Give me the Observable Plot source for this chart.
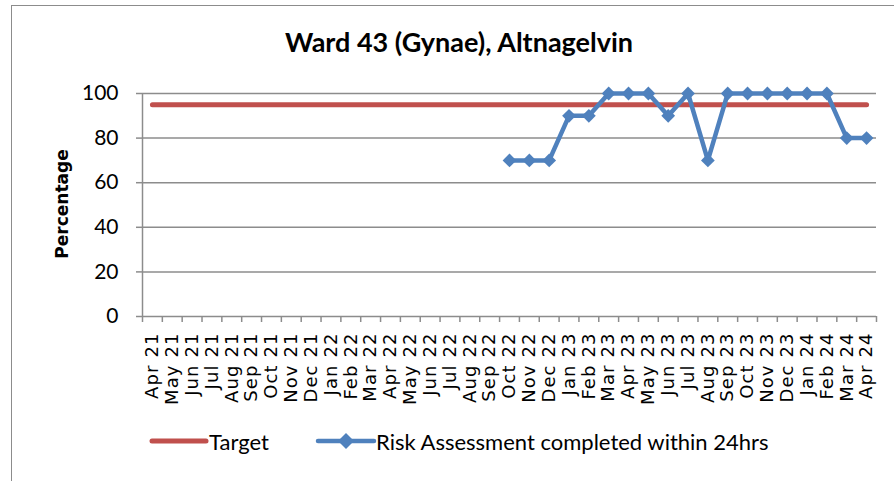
<!DOCTYPE html>
<html><head><meta charset="utf-8">
<script src="https://cdn.jsdelivr.net/npm/d3@7"></script>
<script src="https://cdn.jsdelivr.net/npm/@observablehq/plot@0.6"></script>
<style>
body{margin:0;background:#fff;}
#wrap{position:relative;width:894px;height:481px;overflow:hidden;background:#fff;}
#chart{position:absolute;left:0;top:0;}
#frame{position:absolute;left:11px;top:5px;width:900px;height:500px;border:1px solid #8c8c8c;box-sizing:border-box;pointer-events:none;}
#title{position:absolute;left:12px;width:894px;top:25px;text-align:center;font:bold 27px Lato,sans-serif;color:#000;}
#ylabel{position:absolute;left:62px;top:204px;transform:translate(-50%,-50%) rotate(-90deg);font:bold 17px "DejaVu Sans",sans-serif;white-space:nowrap;color:#000;}
.lg{position:absolute;top:441px;transform:translateY(-50%);font:22px Lato,sans-serif;color:#000;white-space:nowrap;}
.sw{position:absolute;top:429px;}
.xlab text{letter-spacing:1.1px;}
</style></head>
<body><div id="wrap">
<div id="chart"></div>
<div id="title"></div>
<div id="ylabel"></div>
<svg class="sw" style="left:148px" width="62" height="24"><line x1="4" y1="12" x2="58" y2="12" stroke="#C0504D" stroke-width="5" stroke-linecap="round"/></svg>
<div class="lg" id="lg1" style="left:209px"></div>
<svg class="sw" style="left:314px" width="64" height="24"><line x1="4" y1="12" x2="60" y2="12" stroke="#4F81BD" stroke-width="4.5" stroke-linecap="round"/><path d="M32,4L40,12L32,20L24,12Z" fill="#4F81BD"/></svg>
<div class="lg" id="lg2" style="left:376px"></div>
<div id="frame"></div>
</div>
<script>
const titleText = "Ward 43 (Gynae), Altnagelvin";
const yAxisTitle = "Percentage";
const targetLabel = "Target";
const seriesLabel = "Risk Assessment completed within 24hrs";
const months = ["Apr 21","May 21","Jun 21","Jul 21","Aug 21","Sep 21","Oct 21","Nov 21","Dec 21","Jan 22","Feb 22","Mar 22","Apr 22","May 22","Jun 22","Jul 22","Aug 22","Sep 22","Oct 22","Nov 22","Dec 22","Jan 23","Feb 23","Mar 23","Apr 23","May 23","Jun 23","Jul 23","Aug 23","Sep 23","Oct 23","Nov 23","Dec 23","Jan 24","Feb 24","Mar 24","Apr 24"];
const riskMonths = ["Oct 22","Nov 22","Dec 22","Jan 23","Feb 23","Mar 23","Apr 23","May 23","Jun 23","Jul 23","Aug 23","Sep 23","Oct 23","Nov 23","Dec 23","Jan 24","Feb 24","Mar 24","Apr 24"];
const riskValues = [70,70,70,90,90,100,100,100,90,100,70,100,100,100,100,100,100,80,80];
const targetValue = 95;
const yTicks = [0,20,40,60,80,100];

document.getElementById("title").textContent = titleText;
document.getElementById("ylabel").textContent = yAxisTitle;
document.getElementById("lg1").textContent = targetLabel;
document.getElementById("lg2").textContent = seriesLabel;

const targetData = months.map((m, i) => ({pos: i + 0.5, v: targetValue}));
const riskData = riskMonths.map((m, k) => ({pos: months.indexOf(m) + 0.5, v: riskValues[k]}));
const gray = "#8c8c8c";

const chart = Plot.plot({
  width: 894, height: 481,
  marginTop: 93, marginBottom: 165, marginLeft: 142, marginRight: 18,
  style: {background: "transparent", color: "#000", overflow: "visible"},
  x: {type: "linear", domain: [0, months.length], axis: null},
  y: {domain: [0, 100], axis: null},
  marks: [
    Plot.ruleY(yTicks, {stroke: gray, strokeWidth: 1.5}),
    Plot.axisY({ticks: yTicks, tickSize: 6, tickPadding: 18, stroke: gray, strokeWidth: 1.5, fontSize: 21, fontFamily: "Lato", label: null}),
    Plot.ruleX([0], {stroke: gray, strokeWidth: 1.5}),
    Plot.axisX({ticks: d3.range(months.length + 1), tickSize: 6, tickFormat: () => "", stroke: gray, strokeWidth: 1.5, label: null}),
    Plot.axisX({ticks: months.map((m, i) => i + 0.5), tickSize: 0, tickPadding: 16, tickRotate: -90, tickFormat: d => months[Math.floor(d)], fontSize: 18, fontFamily: "DejaVu Sans", label: null, className: "xlab"}),
    Plot.line(targetData, {x: "pos", y: "v", stroke: "#C0504D", strokeWidth: 5, strokeLinecap: "round"}),
    Plot.line(riskData, {x: "pos", y: "v", stroke: "#4F81BD", strokeWidth: 4.5, strokeLinejoin: "round"}),
    Plot.dot(riskData, {x: "pos", y: "v", symbol: "diamond2", r: 6.2, fill: "#4F81BD", stroke: "none"})
  ]
});
document.getElementById("chart").appendChild(chart);
</script>
</body></html>
